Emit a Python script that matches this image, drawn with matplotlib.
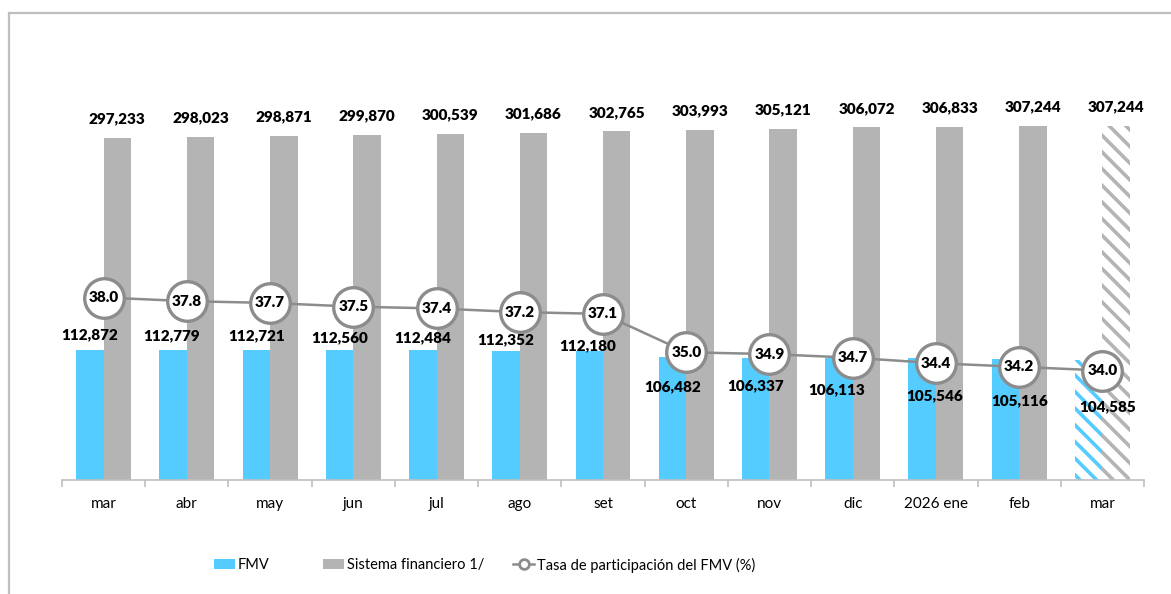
import matplotlib
matplotlib.use("Agg")
import matplotlib.pyplot as plt
from matplotlib.patches import Patch
from matplotlib.lines import Line2D
import numpy as np

plt.rcParams['font.family'] = ['Lato', 'DejaVu Sans']
plt.rcParams['hatch.linewidth'] = 2.6

meses = ["mar", "abr", "may", "jun", "jul", "ago", "set", "oct", "nov", "dic", "2026 ene", "feb", "mar"]
fmv = [112872, 112779, 112721, 112560, 112484, 112352, 112180, 106482, 106337, 106113, 105546, 105116, 104585]
sistema = [297233, 298023, 298871, 299870, 300539, 301686, 302765, 303993, 305121, 306072, 306833, 307244, 307244]
tasa = [38.0, 37.8, 37.7, 37.5, 37.4, 37.2, 37.1, 35.0, 34.9, 34.7, 34.4, 34.2, 34.0]

# label offsets for the FMV values (pixels, relative to the bar top / bar centre)
fmv_dy = [15, 14, 14, 13, 13, 11, 5, -29, -28, -32, -37, -42, -47]
fmv_dx = [0, -2, 0, 0, 0, 0, -2, 0, 0, -2, 12, 14, 19]

azul = "#55CCFF"
gris = "#B4B4B4"
gris_linea = "#8C8C8C"
W, H = 1171, 594

fig = plt.figure(figsize=(W / 100, H / 100), dpi=100)
ax = fig.add_axes([62 / W, 114 / H, 1082 / W, 440 / H])
x = np.arange(len(meses))
bw = 0.33
n = len(meses)

for i in range(n):
    proyectado = i == n - 1
    if proyectado:
        ax.bar(x[i] - bw / 2, fmv[i], bw, color="white", edgecolor=azul, hatch="\\\\", linewidth=0)
        ax.bar(x[i] + bw / 2, sistema[i], bw, color="white", edgecolor=gris, hatch="\\\\", linewidth=0)
    else:
        ax.bar(x[i] - bw / 2, fmv[i], bw, color=azul, linewidth=0)
        ax.bar(x[i] + bw / 2, sistema[i], bw, color=gris, linewidth=0)

ax.set_xlim(-0.5, n - 0.5)
ax.set_ylim(0, 382000)
ax.set_yticks([])
for s in ["top", "right", "left"]:
    ax.spines[s].set_visible(False)
ax.spines["bottom"].set_color("#BFBFBF")
ax.spines["bottom"].set_linewidth(1.2)
ax.set_xticks(x)
ax.set_xticklabels(meses, fontsize=11)
ax.tick_params(axis="x", which="major", length=0, pad=12)
ax.set_xticks(np.arange(-0.5, n, 1), minor=True)
ax.tick_params(axis="x", which="minor", length=5, color="#BFBFBF", width=1.2)

for i in range(n):
    ax.annotate(f"{sistema[i]:,}", (x[i] + bw / 2, sistema[i]), xytext=(0, 19),
                textcoords="offset pixels", ha="center", va="center",
                fontsize=11, fontweight="heavy", zorder=6)
    ax.annotate(f"{fmv[i]:,}", (x[i] - bw / 2, fmv[i]), xytext=(fmv_dx[i], fmv_dy[i]),
                textcoords="offset pixels", ha="center", va="center",
                fontsize=11, fontweight="heavy", zorder=6)

ax2 = ax.twinx()
ax2.set_ylim(28, 28 + 440 / 18.25)
ax2.axis("off")
ax2.plot(x, tasa, color=gris_linea, linewidth=1.8, marker="o", markersize=28.5,
         markerfacecolor="white", markeredgecolor=gris_linea, markeredgewidth=2.4, zorder=5)
for i in range(n):
    ax2.text(x[i], tasa[i], f"{tasa[i]:.1f}", ha="center", va="center",
             fontsize=11, fontweight="heavy", zorder=7)

# frame lines of the original image
fig.add_artist(Line2D([9 / W, 1], [1 - 13 / H, 1 - 13 / H], color="#BFBFBF", linewidth=1.6))
fig.add_artist(Line2D([9 / W, 9 / W], [1 - 13 / H, 0], color="#BFBFBF", linewidth=1.6))

handles = [
    Patch(facecolor=azul, edgecolor="none"),
    Patch(facecolor=gris, edgecolor="none"),
    Line2D([0], [0], color=gris_linea, linewidth=1.8, marker="o", markersize=7,
           markerfacecolor="white", markeredgecolor=gris_linea, markeredgewidth=2),
]
labels = ["FMV", "Sistema financiero 1/", "Tasa de participación del FMV (%)"]
leg_x = [214, 323, 513]
for h, lab, lx in zip(handles, labels, leg_x):
    fig.legend([h], [lab], loc="center left", bbox_to_anchor=(lx / W, 1 - 565 / H),
               frameon=False, fontsize=10.5, borderpad=0, borderaxespad=0,
               handlelength=1.45, handleheight=0.7, handletextpad=0.2)

fig.savefig("out.png", dpi=100)
